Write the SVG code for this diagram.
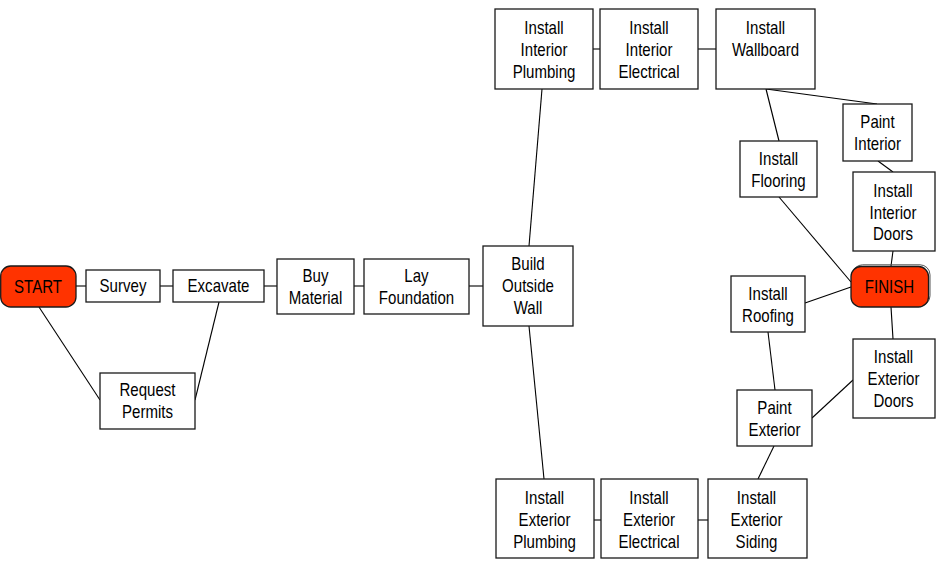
<svg xmlns="http://www.w3.org/2000/svg" width="949" height="577" viewBox="0 0 949 577">
<style>
.b{fill:#fff;stroke:#1a1a1a;stroke-width:1.3}
.r{fill:#ff3300;stroke:#1a1a1a;stroke-width:1.3}
text{font-family:"Liberation Sans",Arial,sans-serif;font-size:17.5px;fill:#000;text-anchor:middle}
#connectors line{stroke:#000;stroke-width:1.1}
</style>
<rect width="949" height="577" fill="#fff"/>
<g id="connectors">
<line x1="76" y1="286" x2="86" y2="286"/>
<line x1="160" y1="286" x2="173" y2="286"/>
<line x1="264" y1="286" x2="277" y2="286"/>
<line x1="354" y1="286" x2="364" y2="286"/>
<line x1="469" y1="286" x2="483" y2="286"/>
<line x1="39" y1="307" x2="100" y2="400"/>
<line x1="219" y1="302" x2="195" y2="400"/>
<line x1="529" y1="246" x2="542" y2="89"/>
<line x1="529" y1="326" x2="544" y2="479"/>
<line x1="593" y1="49" x2="600" y2="49"/>
<line x1="698" y1="49" x2="716" y2="49"/>
<line x1="766" y1="89" x2="877" y2="104"/>
<line x1="766" y1="89" x2="779" y2="141"/>
<line x1="878" y1="161" x2="893" y2="172"/>
<line x1="893" y1="251" x2="891" y2="266"/>
<line x1="779" y1="197" x2="851" y2="282"/>
<line x1="805" y1="303" x2="851" y2="287"/>
<line x1="891" y1="307" x2="893" y2="339"/>
<line x1="768" y1="332" x2="775" y2="390"/>
<line x1="812" y1="418" x2="853" y2="380"/>
<line x1="774" y1="446" x2="758" y2="479"/>
<line x1="594" y1="520" x2="601" y2="520"/>
<line x1="698" y1="520" x2="708" y2="520"/>
</g>
<g id="start"><rect class="r" x="0.7" y="266" width="75.3" height="41" rx="10"/><g transform="matrix(.86 0 0 1 38 0)"><text y="293">START</text></g></g>
<g id="survey"><rect class="b" x="86" y="270" width="74" height="32"/><g transform="matrix(.86 0 0 1 123 0)"><text y="292.5">Survey</text></g></g>
<g id="excavate"><rect class="b" x="173" y="270" width="91" height="32"/><g transform="matrix(.86 0 0 1 218.5 0)"><text y="292.5">Excavate</text></g></g>
<g id="permits"><rect class="b" x="100" y="373" width="95" height="56"/><g transform="matrix(.86 0 0 1 147.5 0)"><text y="396.5">Request</text><text y="418.5">Permits</text></g></g>
<g id="buy"><rect class="b" x="277" y="259" width="77" height="55"/><g transform="matrix(.86 0 0 1 315.5 0)"><text y="282">Buy</text><text y="304">Material</text></g></g>
<g id="foundation"><rect class="b" x="364" y="259" width="105" height="55"/><g transform="matrix(.86 0 0 1 416.5 0)"><text y="282">Lay</text><text y="304">Foundation</text></g></g>
<g id="wall"><rect class="b" x="483" y="246" width="90" height="80"/><g transform="matrix(.86 0 0 1 528 0)"><text y="270.5">Build</text><text y="292.5">Outside</text><text y="314.5">Wall</text></g></g>
<g id="intplumb"><rect class="b" x="495" y="9" width="98" height="80"/><g transform="matrix(.86 0 0 1 544 0)"><text y="34">Install</text><text y="56">Interior</text><text y="78">Plumbing</text></g></g>
<g id="intelec"><rect class="b" x="600" y="9" width="98" height="80"/><g transform="matrix(.86 0 0 1 649 0)"><text y="34">Install</text><text y="56">Interior</text><text y="78">Electrical</text></g></g>
<g id="wallboard"><rect class="b" x="716" y="9" width="99" height="80"/><g transform="matrix(.86 0 0 1 765.5 0)"><text y="34">Install</text><text y="56">Wallboard</text></g></g>
<g id="paintint"><rect class="b" x="843" y="104" width="69" height="57"/><g transform="matrix(.86 0 0 1 877.5 0)"><text y="128">Paint</text><text y="150">Interior</text></g></g>
<g id="flooring"><rect class="b" x="740" y="141" width="77" height="56"/><g transform="matrix(.86 0 0 1 778.5 0)"><text y="165">Install</text><text y="187">Flooring</text></g></g>
<g id="intdoors"><rect class="b" x="853" y="172" width="82" height="79"/><g transform="matrix(.86 0 0 1 893 0)"><text y="197">Install</text><text y="219">Interior</text><text y="240.5">Doors</text></g></g>
<g id="finish"><rect x="852.5" y="264.8" width="77.5" height="41" rx="10" fill="none" stroke="#555" stroke-width="1"/><rect class="r" x="851" y="266.5" width="77.5" height="40.5" rx="10"/><g transform="matrix(.86 0 0 1 889.5 0)"><text y="293.5">FINISH</text></g></g>
<g id="roofing"><rect class="b" x="731" y="276" width="74" height="56"/><g transform="matrix(.86 0 0 1 768 0)"><text y="300">Install</text><text y="322">Roofing</text></g></g>
<g id="extdoors"><rect class="b" x="853" y="339" width="82" height="79"/><g transform="matrix(.86 0 0 1 893.5 0)"><text y="363.5">Install</text><text y="385.5">Exterior</text><text y="407.5">Doors</text></g></g>
<g id="paintext"><rect class="b" x="737" y="390" width="75" height="56"/><g transform="matrix(.86 0 0 1 774.5 0)"><text y="414">Paint</text><text y="436">Exterior</text></g></g>
<g id="siding"><rect class="b" x="708" y="479" width="99" height="79"/><g transform="matrix(.86 0 0 1 756.5 0)"><text y="504">Install</text><text y="526">Exterior</text><text y="548">Siding</text></g></g>
<g id="extplumb"><rect class="b" x="496" y="479" width="98" height="79"/><g transform="matrix(.86 0 0 1 544.5 0)"><text y="504">Install</text><text y="526">Exterior</text><text y="548">Plumbing</text></g></g>
<g id="extelec"><rect class="b" x="601" y="479" width="97" height="79"/><g transform="matrix(.86 0 0 1 649 0)"><text y="504">Install</text><text y="526">Exterior</text><text y="548">Electrical</text></g></g>
</svg>
